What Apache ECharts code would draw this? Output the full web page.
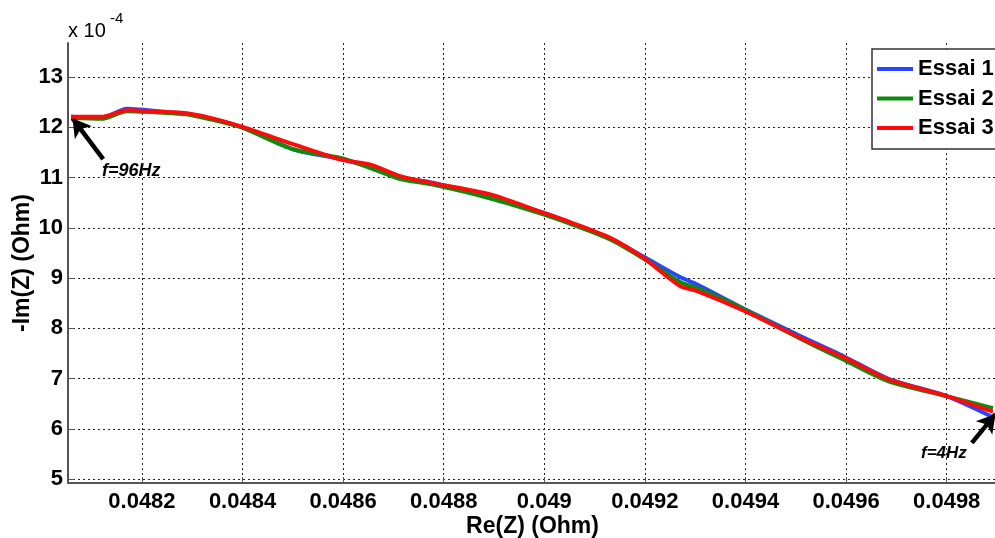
<!DOCTYPE html>
<html>
<head>
<meta charset="utf-8">
<script src="https://cdn.jsdelivr.net/npm/echarts@6/dist/echarts.min.js"></script>
<style>html,body{margin:0;padding:0;background:#fff}#c{width:995px;height:538px}</style>
</head>
<body>
<div id="c"></div>
<script>
// Re(Z) in Ohm (x) for all three series
const reZ = [0.048059, 0.048120, 0.048170, 0.048262, 0.048289, 0.048340, 0.048400, 0.048502, 0.048595, 0.048654, 0.048713, 0.048773, 0.048891, 0.048998, 0.049052, 0.049131, 0.049197, 0.049270, 0.049304, 0.049399, 0.049508, 0.049598, 0.049683, 0.049800, 0.049892];
// -Im(Z) in units of 1e-4 Ohm
const essai1 = [12.21, 12.19, 12.37, 12.29, 12.27, 12.17, 12.00, 11.56, 11.37, 11.21, 10.99, 10.91, 10.61, 10.30, 10.10, 9.78, 9.43, 9.02, 8.87, 8.38, 7.85, 7.43, 7.00, 6.65, 6.23];
const essai2 = [12.19, 12.17, 12.32, 12.28, 12.26, 12.15, 11.99, 11.56, 11.39, 11.19, 10.97, 10.87, 10.59, 10.27, 10.08, 9.77, 9.39, 8.92, 8.80, 8.37, 7.80, 7.36, 6.95, 6.65, 6.41];
const essai3 = [12.21, 12.21, 12.34, 12.30, 12.28, 12.18, 12.01, 11.66, 11.36, 11.26, 11.03, 10.90, 10.67, 10.30, 10.11, 9.80, 9.40, 8.84, 8.74, 8.34, 7.81, 7.41, 6.99, 6.65, 6.34];
const seriesNames = ['Essai 1', 'Essai 2', 'Essai 3'];
const xTickStep = 0.0002;
const yTickStep = 1;
// annotation arrows: [tailX, tailY] -> [headX, headY] in data units
const arrow96 = [[0.048123, 11.37], [0.048062, 12.18]];
const arrow4 = [[0.049850, 5.72], [0.049897, 6.29]];
const labels = ['f=96Hz', 'f=4Hz'];

const chart = echarts.init(document.getElementById('c'), null, {renderer: 'canvas'});
const font = 'Liberation Sans, Arial, sans-serif';
const colors = ['#2846ff', '#0b8c0b', '#ff0a0a'];
function pairs(ys){ return reZ.map((x,i)=>[x, ys[i]]); }
const allY = [essai1, essai2, essai3];

const series = seriesNames.map((n,i)=>({
  name: n, type: 'line', data: pairs(allY[i]), showSymbol: false, symbol: 'none',
  smooth: 0.25, lineStyle: {width: 4, color: colors[i]}, itemStyle: {color: colors[i]},
  z: 3 + i, animation: false
}));
series.push({
  type: 'line', data: [], silent: true, animation: false,
  markLine: {
    silent: true, animation: false, symbol: ['none', 'arrow'], symbolSize: [16, 18],
    lineStyle: {color: '#000', width: 4.5, type: 'solid'}, label: {show: false},
    data: [
      [{coord: arrow96[0]}, {coord: arrow96[1]}],
      [{coord: arrow4[0]}, {coord: arrow4[1]}]
    ]
  },
  z: 10
});

chart.setOption({
  backgroundColor: '#fff',
  animation: false,
  grid: {left: 68, right: -2, top: 43, bottom: 55, containLabel: false, outerBoundsMode: 'none'},
  xAxis: {
    type: 'value', min: 0.048053, max: 0.0499,
    minInterval: xTickStep, maxInterval: xTickStep,
    name: 'Re(Z) (Ohm)', nameLocation: 'middle', nameGap: 32, nameMoveOverlap: false,
    nameTextStyle: {fontFamily: font, fontWeight: 'bold', fontSize: 23, color: '#000'},
    axisLine: {show: true, onZero: false, lineStyle: {color: '#555', width: 2}},
    axisTick: {show: true, inside: true, length: 6, lineStyle: {color: '#555'}},
    axisLabel: {fontFamily: font, fontWeight: 'bold', fontSize: 22, color: '#000', margin: 8,
      showMinLabel: false, showMaxLabel: false,
      formatter: v => parseFloat(v.toFixed(4)).toString()},
    splitLine: {show: true, showMinLine: false, showMaxLine: false, lineStyle: {color: '#222', type: [2, 3], width: 1}}
  },
  yAxis: {
    type: 'value', min: 4.92, max: 13.68,
    minInterval: yTickStep, maxInterval: yTickStep,
    name: '-Im(Z) (Ohm)', nameLocation: 'middle', nameGap: 34, nameRotate: 90, nameMoveOverlap: false,
    nameTextStyle: {fontFamily: font, fontWeight: 'bold', fontSize: 23, color: '#000'},
    axisLine: {show: true, onZero: false, lineStyle: {color: '#555', width: 2}},
    axisTick: {show: true, inside: true, length: 6, lineStyle: {color: '#555'}},
    axisLabel: {fontFamily: font, fontWeight: 'bold', fontSize: 22, color: '#000', margin: 5,
      showMinLabel: false, showMaxLabel: false},
    splitLine: {show: true, showMinLine: false, showMaxLine: false, lineStyle: {color: '#222', type: [2, 3], width: 1}}
  },
  legend: {
    data: seriesNames, orient: 'vertical', left: 872, top: 49, icon: 'rect',
    padding: [9, 30, 10, 5], itemWidth: 36, itemHeight: 4, itemGap: 7.5,
    backgroundColor: '#fff', borderColor: '#333', borderWidth: 1.5, borderRadius: 0,
    textStyle: {fontFamily: font, fontWeight: 'bold', fontSize: 22, color: '#000', lineHeight: 21, padding: [0,0,0,0]}
  },
  graphic: [
    {type: 'text', left: 68, top: 21, style: {text: 'x 10', font: '20px ' + font, fill: '#000'}},
    {type: 'text', left: 110, top: 11, style: {text: '-4', font: '15px ' + font, fill: '#000'}},
    {type: 'text', left: 102, top: 162, style: {text: labels[0], font: 'italic bold 18px ' + font, fill: '#000'}},
    {type: 'text', left: 921, top: 445, style: {text: labels[1], font: 'italic bold 17px ' + font, fill: '#000'}}
  ],
  series: series
});
</script>
</body>
</html>
